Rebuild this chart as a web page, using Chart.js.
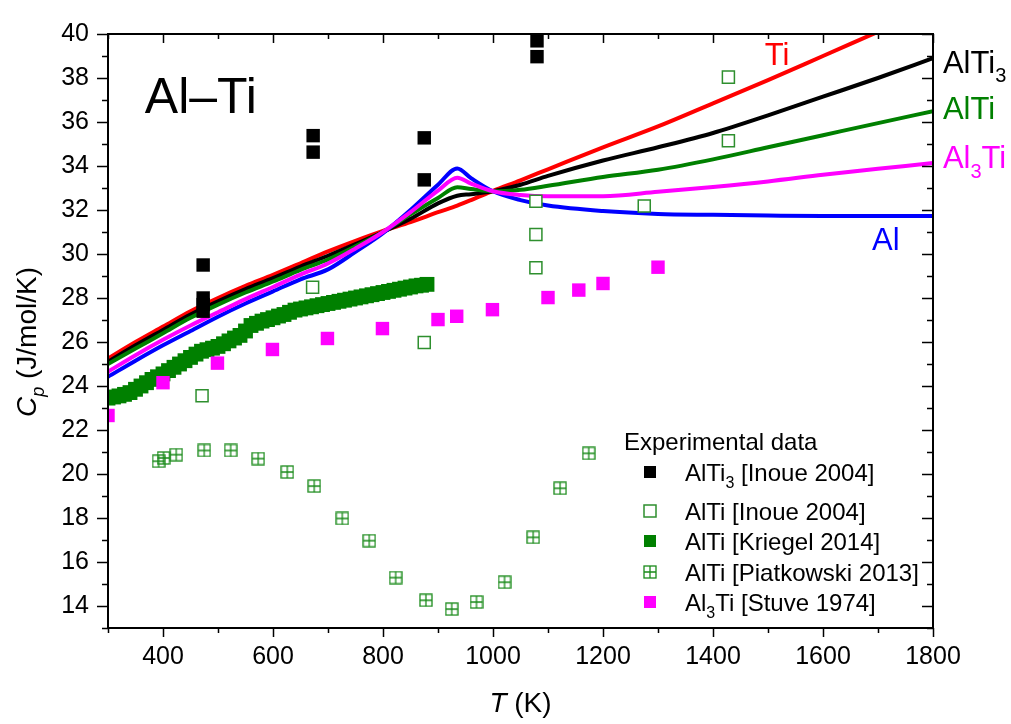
<!DOCTYPE html>
<html lang="en">
<head>
<meta charset="UTF-8">
<title>Al–Ti heat capacity</title>
<script src="https://cdn.jsdelivr.net/npm/chart.js"></script>
<style>
  html, body { margin: 0; padding: 0; background: #fff; }
  #wrap { width: 1011px; height: 724px; }
</style>
</head>
<body>
<div id="wrap"><canvas id="cpChart" width="1011" height="724"></canvas></div>
<script>
// calculated curves, T (K) and Cp (J/mol/K)
const tCalc   = [300, 350, 400, 450, 500, 550, 600, 650, 700, 750, 800, 850, 900, 935, 960, 1000, 1050, 1100, 1200, 1300, 1400, 1500, 1600, 1700, 1800];
const cpTi    = [25.25, 26.0, 26.7, 27.4, 28.0, 28.55, 29.05, 29.58, 30.12, 30.6, 31.05, 31.45, 31.9, 32.2, 32.45, 32.87, 33.35, 33.85, 34.85, 35.8, 36.85, 37.9, 39.0, 40.1, 41.2];
const cpAlTi3 = [25.1, 25.85, 26.55, 27.25, 27.85, 28.4, 28.9, 29.43, 29.92, 30.45, 31.0, 31.6, 32.3, 32.65, 32.72, 32.85, 33.15, 33.55, 34.25, 34.85, 35.5, 36.3, 37.15, 38.0, 38.9];
const cpAlTi  = [25.0, 25.7, 26.4, 27.1, 27.7, 28.25, 28.75, 29.28, 29.75, 30.35, 31.0, 31.8, 32.55, 33.03, 32.95, 32.85, 32.92, 33.1, 33.5, 33.83, 34.3, 34.85, 35.4, 35.95, 36.49];
const cpAl3Ti = [24.65, 25.4, 26.1, 26.75, 27.35, 27.95, 28.5, 29.06, 29.57, 30.25, 31.0, 31.9, 32.88, 33.47, 33.2, 32.85, 32.68, 32.62, 32.63, 32.83, 33.05, 33.3, 33.6, 33.87, 34.14];
const cpAl    = [24.42, 25.15, 25.85, 26.5, 27.15, 27.75, 28.3, 28.85, 29.3, 30.1, 30.95, 32.0, 33.15, 33.89, 33.45, 32.85, 32.45, 32.2, 31.95, 31.82, 31.78, 31.75, 31.73, 31.73, 31.73];

// experimental data
const tInoue3  = [473, 473, 473, 473, 673, 673, 875, 875, 1080, 1080];
const cpInoue3 = [29.5, 28.0, 27.7, 27.4, 35.38, 34.63, 35.28, 33.37, 39.69, 38.97];
const tInoue   = [471, 672, 875, 1078, 1078, 1078, 1275, 1428, 1428];
const cpInoue  = [23.56, 28.49, 25.98, 32.4, 30.89, 29.38, 32.18, 38.04, 35.15];
const tKriegel = [300, 310, 320, 330, 340, 350, 360, 370, 380, 390, 400, 410, 420, 430, 440, 450, 460, 470, 480, 490,
                  500, 510, 520, 530, 540, 550, 560, 570, 580, 590, 600, 610, 620, 630, 640, 650, 660, 670, 680, 690,
                  700, 710, 720, 730, 740, 750, 760, 770, 780, 790, 800, 810, 820, 830, 840, 850, 860, 870, 880];
const cpKriegel = [23.45, 23.5, 23.55, 23.62, 23.7, 23.85, 24.0, 24.15, 24.3, 24.42, 24.55, 24.7, 24.85, 25.0, 25.15, 25.3, 25.45, 25.58, 25.65, 25.72,
                   25.8, 25.92, 26.05, 26.18, 26.3, 26.5, 26.75, 26.85, 26.95, 27.02, 27.1, 27.18, 27.25, 27.35, 27.45, 27.5, 27.55, 27.6, 27.65, 27.7,
                   27.75, 27.8, 27.85, 27.9, 27.95, 28.0, 28.05, 28.1, 28.15, 28.2, 28.25, 28.3, 28.35, 28.4, 28.45, 28.5, 28.55, 28.58, 28.62];
const tPiat  = [392, 401, 424, 475, 523, 573, 626, 675, 726, 775, 823, 878, 925, 970, 1021, 1073, 1122, 1174];
const cpPiat = [20.58, 20.73, 20.88, 21.07, 21.07, 20.7, 20.09, 19.45, 17.98, 16.97, 15.29, 14.26, 13.86, 14.18, 15.08, 17.12, 19.35, 20.94];
const tStuve  = [300, 400, 499, 599, 699, 799, 900, 934, 999, 1100, 1156, 1200, 1300];
const cpStuve = [22.66, 24.15, 25.04, 25.66, 26.16, 26.61, 27.02, 27.17, 27.47, 28.02, 28.36, 28.66, 29.4];

// axes
const xMajor = [400, 600, 800, 1000, 1200, 1400, 1600, 1800];
const xMinor = [300, 500, 700, 900, 1100, 1300, 1500, 1700];
const yMajor = [14, 16, 18, 20, 22, 24, 26, 28, 30, 32, 34, 36, 38, 40];
const yMinor = [13, 15, 17, 19, 21, 23, 25, 27, 29, 31, 33, 35, 37, 39];

const FAM = '"Liberation Sans", Arial, sans-serif';
const GREEN = '#008000';

const pts = (xs, ys) => xs.map((t, i) => ({x: t, y: ys[i]}));

function crossBox(size, color) {
    const c = document.createElement('canvas');
    c.width = size; c.height = size;
    const g = c.getContext('2d');
    g.strokeStyle = color;
    g.lineWidth = 1.3;
    g.strokeRect(1, 1, size - 2, size - 2);
    g.beginPath();
    g.moveTo(size / 2, 1); g.lineTo(size / 2, size - 1);
    g.moveTo(1, size / 2); g.lineTo(size - 1, size / 2);
    g.stroke();
    return c;
}
const piatMark = crossBox(14, '#1a8a1a');

function partFont(kind, size) {
    const sub = kind.includes('sub');
    const it = kind.includes('it');
    return (it ? 'italic ' : '') + Math.round(sub ? size * 0.66 : size) + 'px ' + FAM;
}
function richText(ctx, parts, x, y, size, color, align) {
    ctx.save();
    ctx.fillStyle = color;
    ctx.textBaseline = 'alphabetic';
    ctx.textAlign = 'left';
    let w = 0;
    parts.forEach(([s, k]) => { ctx.font = partFont(k, size); w += ctx.measureText(s).width; });
    let cx = align === 'center' ? x - w / 2 : x;
    parts.forEach(([s, k]) => {
        ctx.font = partFont(k, size);
        ctx.fillText(s, cx, y + (k.includes('sub') ? size * 0.3 : 0));
        cx += ctx.measureText(s).width;
    });
    ctx.restore();
}

// curve labels, placed in data coordinates
const curveLabels = [
    {parts: [['Al–Ti', '']], t: 367, cp: 36.43, size: 50, color: '#000'},
    {parts: [['Ti', '']], t: 1494, cp: 38.57, size: 31, color: '#ff0000'},
    {parts: [['AlTi', ''], ['3', 'sub']], t: 1818, cp: 38.22, size: 31, color: '#000'},
    {parts: [['AlTi', '']], t: 1818, cp: 36.12, size: 31, color: GREEN},
    {parts: [['Al', ''], ['3', 'sub'], ['Ti', '']], t: 1818, cp: 33.89, size: 31, color: '#ff00ff'},
    {parts: [['Al', '']], t: 1689, cp: 30.19, size: 31, color: '#0000ff'}
];

const legendRows = [
    {parts: [['AlTi', ''], ['3', 'sub'], [' [Inoue 2004]', '']], ds: 0},
    {parts: [['AlTi [Inoue 2004]', '']], ds: 1},
    {parts: [['AlTi [Kriegel 2014]', '']], ds: 2},
    {parts: [['AlTi [Piatkowski 2013]', '']], ds: 3},
    {parts: [['Al', ''], ['3', 'sub'], ['Ti [Stuve 1974]', '']], ds: 4}
];

const decor = {
    id: 'decor',
    afterDraw(chart) {
        const {ctx, chartArea: a, scales: {x, y}} = chart;
        ctx.save();
        ctx.strokeStyle = '#000';
        ctx.lineWidth = 2;
        ctx.strokeRect(a.left, a.top, a.right - a.left, a.bottom - a.top);
        ctx.lineWidth = 1.5;
        ctx.beginPath();
        const xt = (v, len) => {
            const p = Math.round(x.getPixelForValue(v)) + 0.5;
            ctx.moveTo(p, a.bottom); ctx.lineTo(p, a.bottom + len);
            ctx.moveTo(p, a.top); ctx.lineTo(p, a.top + len);
        };
        const yt = (v, len) => {
            const p = Math.round(y.getPixelForValue(v)) + 0.5;
            ctx.moveTo(a.left, p); ctx.lineTo(a.left - len, p);
            ctx.moveTo(a.right, p); ctx.lineTo(a.right - len, p);
        };
        xMajor.forEach(v => xt(v, 9));
        xMinor.forEach(v => xt(v, 5));
        yMajor.forEach(v => yt(v, 11));
        yMinor.forEach(v => yt(v, 6));
        ctx.stroke();
        ctx.restore();

        // axis titles
        richText(ctx, [['T', 'it'], [' (K)', '']], (a.left + a.right) / 2, 712, 28, '#000', 'center');
        ctx.save();
        ctx.translate(36, 342);
        ctx.rotate(-Math.PI / 2);
        richText(ctx, [['C', 'it'], ['p', 'itsub'], [' (J/mol/K)', '']], 0, 0, 28, '#000', 'center');
        ctx.restore();

        curveLabels.forEach(l => {
            richText(ctx, l.parts, x.getPixelForValue(l.t), y.getPixelForValue(l.cp), l.size, l.color);
        });

        // legend
        richText(ctx, [['Experimental data', '']], 624, 450, 24, '#000');
        const rowY = [472, 511, 541, 572, 602];
        legendRows.forEach((r, i) => {
            const d = chart.data.datasets[r.ds];
            const cy = rowY[i];
            const mx = 650;
            ctx.save();
            if (d.pointStyle === 'rect') {
                const s = 12;
                ctx.fillStyle = d.backgroundColor;
                ctx.fillRect(mx - s / 2, cy - s / 2, s, s);
                if (d.borderWidth) {
                    ctx.strokeStyle = d.borderColor;
                    ctx.lineWidth = d.borderWidth;
                    ctx.strokeRect(mx - s / 2, cy - s / 2, s, s);
                }
            } else {
                ctx.drawImage(d.pointStyle, mx - 7, cy - 7);
            }
            ctx.restore();
            richText(ctx, r.parts, 685, cy + 9, 24, '#000');
        });
    }
};

const lineDs = (label, data, color, order) => ({
    label, data: pts(tCalc, data), showLine: true, borderColor: color, borderWidth: 4,
    pointRadius: 0, cubicInterpolationMode: 'monotone', clip: 0, order
});

new Chart(document.getElementById('cpChart'), {
    type: 'scatter',
    data: {
        datasets: [
            {label: 'AlTi3 [Inoue 2004]', data: pts(tInoue3, cpInoue3), pointStyle: 'rect', pointRadius: 9.5,
             backgroundColor: '#000', borderWidth: 0, clip: 0, order: 1},
            {label: 'AlTi [Inoue 2004]', data: pts(tInoue, cpInoue), pointStyle: 'rect', pointRadius: 8.5,
             backgroundColor: '#fff', borderColor: '#2e8f2e', borderWidth: 1.5, clip: 0, order: 1},
            {label: 'AlTi [Kriegel 2014]', data: pts(tKriegel, cpKriegel), pointStyle: 'rect', pointRadius: 10.5,
             backgroundColor: GREEN, borderWidth: 0, clip: 0, order: 1.5},
            {label: 'AlTi [Piatkowski 2013]', data: pts(tPiat, cpPiat), pointStyle: piatMark,
             clip: 0, order: 1},
            {label: 'Al3Ti [Stuve 1974]', data: pts(tStuve, cpStuve), pointStyle: 'rect', pointRadius: 9.5,
             backgroundColor: '#ff00ff', borderWidth: 0, clip: 0, order: 1},
            lineDs('Al3Ti', cpAl3Ti, '#ff00ff', 2),
            lineDs('Al', cpAl, '#0000ff', 3),
            lineDs('AlTi', cpAlTi, GREEN, 4),
            lineDs('AlTi3', cpAlTi3, '#000', 5),
            lineDs('Ti', cpTi, '#ff0000', 6)
        ]
    },
    options: {
        responsive: false,
        animation: false,
        layout: {padding: {top: 23, right: 78, left: 0, bottom: 0}},
        plugins: {legend: {display: false}, tooltip: {enabled: false}},
        scales: {
            x: {
                type: 'linear', min: 300, max: 1800,
                grid: {display: false, drawTicks: false},
                border: {display: false},
                afterBuildTicks: s => { s.ticks = xMajor.map(v => ({value: v})); },
                afterFit: s => { s.height = 96; },
                ticks: {padding: 14, color: '#000', font: {family: FAM, size: 25}, callback: v => String(v)}
            },
            y: {
                min: 13, max: 40,
                grid: {display: false, drawTicks: false},
                border: {display: false},
                afterBuildTicks: s => { s.ticks = yMajor.map(v => ({value: v})); },
                afterFit: s => { s.width = 108; },
                ticks: {padding: 19, color: '#000', font: {family: FAM, size: 25}, callback: v => String(v)}
            }
        }
    },
    plugins: [decor]
});
</script>
</body>
</html>
